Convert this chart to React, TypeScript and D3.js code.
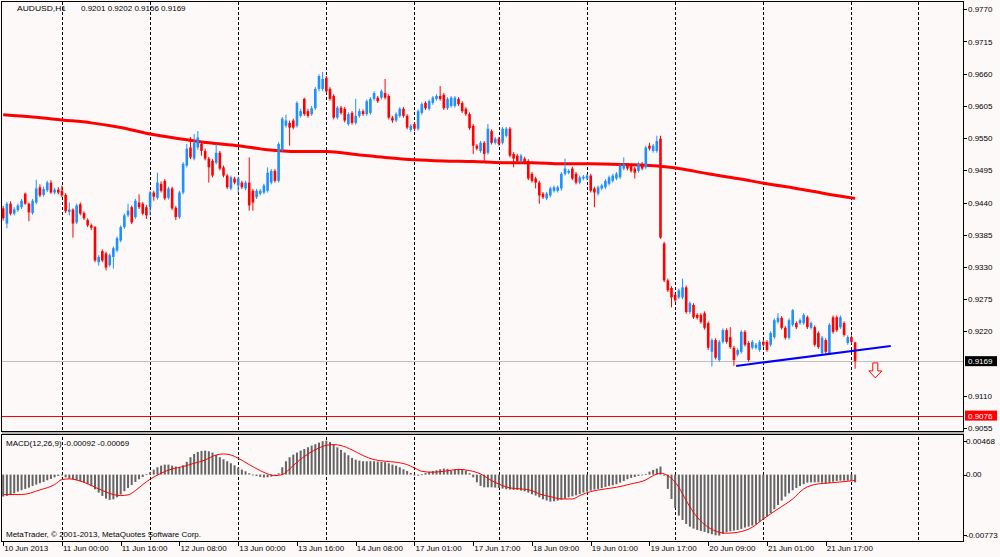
import React, { useLayoutEffect } from 'react';
import * as d3 from 'd3';

// ---------- data ----------
const symbolText = 'AUDUSD,H1';
const headerQuotes = ['0.9201', '0.9202', '0.9156', '0.9169'];
const macdText = 'MACD(12,26,9) -0.00092 -0.00069';
const copyrightText = 'MetaTrader, \u00A9 2001-2013, MetaQuotes Software Corp.';

// prices in pips (x 1/10000)
const opens = [
  9430,9404,9438,9421,9427,9432,9455,9438,9422,9440,
  9466,9453,9461,9474,9457,9462,9460,9453,9424,9428,
  9406,9437,9422,9410,9401,9398,9338,9357,9353,9333,
  9347,9358,9375,9398,9418,9432,9415,9440,9438,9432,
  9432,9457,9448,9472,9477,9448,9464,9431,9415,9457,
  9503,9534,9515,9534,9540,9528,9515,9511,9508,9525,
  9500,9486,9464,9481,9469,9474,9464,9474,9460,9449,
  9455,9457,9460,9474,9494,9477,9530,9571,9576,9580,
  9571,9588,9617,9596,9591,9601,9634,9634,9653,9634,
  9622,9585,9602,9600,9574,9593,9576,9588,9596,9591,
  9593,9617,9619,9619,9627,9622,9585,9580,9588,9600,
  9588,9564,9574,9566,9593,9610,9600,9610,9617,9622,
  9624,9601,9605,9605,9617,9610,9600,9591,9571,9537,
  9528,9542,9525,9562,9542,9549,9542,9554,9566,9523,
  9520,9511,9515,9511,9489,9481,9474,9455,9447,9452,
  9460,9460,9464,9489,9491,9498,9489,9474,9481,9481,
  9486,9464,9455,9464,9466,9472,9477,9481,9483,9498,
  9503,9503,9498,9494,9506,9500,9537,9528,9528,9549,
  9370,9307,9294,9282,9278,9278,9295,9253,9265,9248,
  9248,9251,9234,9185,9205,9171,9202,9222,9210,9192,
  9180,9185,9219,9200,9192,9192,9188,9202,9202,9197,
  9210,9236,9243,9226,9209,9231,9234,9234,9234,9244,
  9226,9227,9217,9183,9205,9183,9244,9244,9227,9234,
  9200,9210,9201,
];
const highs = [
  9434,9441,9442,9432,9438,9446,9457,9440,9446,9479,
  9471,9467,9477,9478,9465,9466,9469,9456,9440,9430,
  9438,9440,9425,9413,9404,9400,9350,9360,9356,9353,
  9365,9382,9401,9421,9438,9435,9446,9454,9441,9436,
  9460,9460,9491,9476,9480,9467,9467,9434,9460,9509,
  9540,9552,9557,9562,9545,9532,9518,9514,9540,9528,
  9503,9489,9486,9484,9484,9477,9477,9517,9463,9463,
  9463,9472,9500,9497,9497,9543,9586,9590,9580,9583,
  9613,9600,9619,9600,9605,9637,9659,9663,9656,9637,
  9625,9605,9605,9603,9594,9596,9617,9600,9599,9616,
  9620,9630,9622,9633,9651,9625,9588,9594,9603,9603,
  9591,9574,9577,9599,9611,9613,9616,9622,9625,9639,
  9627,9620,9622,9622,9620,9613,9603,9594,9574,9540,
  9545,9545,9574,9565,9552,9552,9569,9569,9569,9526,
  9523,9523,9518,9514,9492,9484,9477,9458,9458,9467,
  9469,9469,9492,9515,9497,9501,9492,9486,9487,9489,
  9489,9467,9469,9472,9480,9486,9489,9492,9506,9517,
  9506,9506,9501,9509,9509,9537,9542,9540,9554,9554,
  9373,9310,9297,9285,9293,9310,9298,9271,9268,9251,
  9251,9254,9237,9208,9208,9205,9225,9225,9227,9195,
  9191,9222,9222,9203,9205,9200,9205,9205,9205,9220,
  9242,9251,9246,9229,9242,9258,9237,9242,9251,9247,
  9237,9230,9220,9212,9208,9234,9247,9247,9247,9237,
  9213,9213,9202,
];
const lows = [
  9409,9396,9418,9418,9424,9429,9436,9408,9419,9437,
  9449,9450,9458,9455,9454,9454,9449,9422,9418,9380,
  9403,9418,9410,9398,9393,9338,9332,9338,9324,9330,
  9327,9355,9372,9395,9415,9403,9412,9429,9418,9412,
  9418,9443,9445,9457,9444,9445,9427,9410,9412,9454,
  9500,9514,9512,9530,9520,9512,9474,9483,9505,9495,
  9483,9463,9461,9471,9457,9463,9461,9426,9426,9446,
  9452,9454,9457,9471,9474,9474,9527,9568,9537,9565,
  9568,9585,9588,9585,9588,9598,9630,9630,9627,9614,
  9582,9582,9590,9577,9571,9573,9573,9585,9588,9588,
  9590,9614,9610,9616,9616,9582,9576,9577,9585,9585,
  9565,9560,9562,9563,9590,9598,9597,9607,9614,9614,
  9598,9598,9602,9602,9605,9593,9588,9564,9523,9529,
  9525,9511,9522,9539,9539,9537,9539,9551,9517,9500,
  9508,9508,9505,9478,9474,9464,9438,9446,9444,9449,
  9457,9457,9460,9486,9488,9478,9471,9471,9478,9478,
  9457,9432,9452,9461,9463,9469,9474,9478,9480,9495,
  9495,9491,9481,9491,9495,9497,9529,9525,9525,9378,
  9304,9287,9261,9270,9275,9275,9250,9250,9241,9240,
  9233,9223,9188,9160,9172,9168,9199,9199,9190,9161,
  9177,9182,9194,9168,9189,9189,9185,9194,9185,9194,
  9207,9233,9223,9206,9206,9228,9224,9231,9231,9224,
  9223,9194,9190,9180,9182,9180,9216,9219,9224,9211,
  9197,9199,9156,
];
const closes = [
  9413,9438,9421,9428,9435,9443,9438,9423,9443,9464,
  9452,9463,9474,9457,9462,9457,9452,9425,9428,9404,
  9435,9421,9413,9401,9397,9341,9347,9341,9329,9350,
  9362,9379,9398,9418,9426,9406,9443,9432,9421,9418,
  9457,9450,9474,9460,9447,9464,9430,9415,9457,9506,
  9532,9517,9542,9551,9528,9515,9500,9486,9525,9498,
  9486,9466,9483,9474,9481,9466,9474,9435,9440,9460,
  9460,9469,9491,9494,9477,9540,9583,9580,9568,9568,
  9610,9596,9591,9588,9601,9634,9656,9651,9630,9617,
  9585,9602,9593,9580,9591,9576,9588,9596,9591,9613,
  9617,9627,9613,9630,9619,9585,9580,9591,9600,9588,
  9568,9571,9566,9596,9608,9601,9613,9619,9622,9617,
  9601,9617,9619,9619,9608,9596,9591,9567,9537,9532,
  9542,9523,9566,9542,9549,9540,9566,9566,9520,9515,
  9511,9520,9508,9481,9477,9474,9452,9449,9455,9464,
  9466,9466,9489,9498,9494,9481,9474,9483,9484,9486,
  9460,9457,9466,9469,9477,9483,9486,9489,9503,9506,
  9498,9494,9491,9506,9498,9534,9532,9537,9545,9380,
  9307,9290,9278,9273,9290,9295,9253,9268,9244,9243,
  9236,9226,9192,9205,9175,9202,9222,9202,9193,9171,
  9188,9219,9197,9171,9202,9197,9202,9197,9188,9217,
  9239,9243,9226,9209,9239,9256,9227,9239,9248,9227,
  9234,9197,9193,9209,9185,9231,9219,9222,9244,9214,
  9210,9202,9169,
];

// moving average (red thick line), sampled every 8 bars, in pips
const maBars = [0,8,16,24,32,40,48,56,64,72,80,88,96,104,112,120,128,136,144,152,160,168,176,184,192,200,208,216,224,232];
const maValues = [9590,9586,9581,9576,9568,9557,9549,9542,9537,9530,9527,9527,9522,9517,9513,9511,9510,9508,9508,9506,9506,9505,9503,9498,9489,9481,9472,9464,9455,9447];

// MACD histogram per bar, in 1e-5 units
const macdHist = [
  -260,-252,-236,-221,-201,-185,-169,-154,-134,-118,
  -102,-87,-67,-51,-32,-16,-4,-32,-47,-55,
  -67,-79,-95,-114,-138,-173,-213,-252,-284,-299,
  -292,-268,-236,-197,-158,-122,-87,-55,-28,4,
  28,59,87,106,118,118,106,95,87,110,
  150,205,244,268,280,284,276,260,232,205,
  181,158,134,110,83,59,39,16,-2,-16,
  -28,-35,-32,-24,-12,16,87,158,205,236,
  260,284,303,323,343,359,378,394,402,386,
  355,323,292,260,229,197,177,165,158,158,
  158,158,154,150,146,134,118,106,87,63,
  43,20,-4,-12,4,20,32,43,51,63,
  71,67,47,59,67,63,47,16,-32,-91,
  -134,-150,-150,-150,-154,-158,-165,-173,-177,-181,
  -181,-189,-197,-213,-232,-248,-268,-292,-307,-319,
  -315,-307,-296,-284,-268,-256,-244,-229,-213,-201,
  -189,-177,-169,-158,-146,-134,-126,-114,-95,-75,
  -55,-39,-28,-16,-4,8,35,55,71,95,
  -12,-169,-288,-394,-485,-536,-583,-615,-638,-654,
  -666,-678,-693,-705,-717,-721,-701,-682,-670,-662,
  -654,-642,-626,-615,-603,-587,-559,-532,-496,-457,
  -410,-359,-307,-260,-221,-185,-158,-134,-114,-95,
  -91,-91,-91,-95,-106,-99,-83,-75,-71,-71,
  -71,-71,-92,
];
// MACD signal line, sampled, 1e-5 units
const signalBars = [0,5,10,14,16,18,22,26,30,32,34,36,38,40,43,46,49,52,55,58,60,62,64,67,70,72,74,76,78,80,83,86,88,90,92,95,98,101,104,107,110,112,114,117,121,124,127,130,133,136,138,141,144,146,149,152,155,157,160,164,167,171,175,177,179,181,184,186,189,192,195,197,200,204,207,211,215,218,222,225,229,232];
const signalValues = [-236,-236,-181,-118,-59,-51,-91,-169,-236,-248,-240,-189,-118,-55,16,67,95,134,173,232,244,232,193,118,47,8,-12,0,67,146,244,315,347,355,343,292,225,177,158,146,118,79,39,28,45,62,47,8,-71,-130,-158,-169,-189,-229,-260,-288,-288,-248,-201,-169,-150,-110,-63,-12,16,-12,-150,-307,-504,-622,-682,-693,-682,-622,-524,-406,-288,-169,-110,-99,-83,-69];

const priceTicks = [0.9770,0.9715,0.9660,0.9605,0.9550,0.9495,0.9440,0.9385,0.9330,0.9275,0.9220,0.9110,0.9055];
const macdMax = 0.00468;
const macdMin = -0.00773;
const macdTickLabels = ['0.00468','0.00','-0.00773'];

const timeLabels = ['10 Jun 2013','11 Jun 00:00','11 Jun 16:00','12 Jun 08:00','13 Jun 00:00','13 Jun 16:00','14 Jun 08:00','17 Jun 01:00','17 Jun 17:00','18 Jun 09:00','19 Jun 01:00','19 Jun 17:00','20 Jun 09:00','21 Jun 01:00','21 Jun 17:00'];
const timeLabelBars = [0,16,32,48,64,80,96,112,128,144,160,176,192,208,224];
const separatorBars = [16,40,64,88,112,135,159,183,207,231,249];

const currentPrice = 0.9169;
const levelPrice = 0.9076;
const trendBars = [199.6, 241.7];
const trendPrices = [0.91608, 0.91949];
const arrowBar = 237.5;
const arrowPrice = 0.9166;

// ---------- component ----------
const FONT = "'Liberation Sans', Arial, Helvetica, sans-serif";
const BG = '#FDF9F9';
const BULL = '#1E90FF';
const BEAR = '#FF0000';

export default function App() {
  useLayoutEffect(() => {
    document.body.style.margin = '0';
  }, []);

  const W = 1000, H = 557;
  const plotL = 1.5, plotR = 963.5;
  const mainTop = 1.5, mainBot = 431.5;
  const macdTop = 434.5, macdBot = 541.5;
  const lastBar = closes.length - 1;

  const x = d3.scaleLinear().domain([0, lastBar]).range([3.2, 3.2 + 3.672 * lastBar]);
  const y = d3.scaleLinear().domain([0.9110, 0.9770]).range([395.7, 9.3]);
  const ym = d3.scaleLinear().domain([macdMin, macdMax]).range([540, 435]);
  const p = (v: number) => v / 10000;
  const m = (v: number) => v / 100000;

  const maLine = d3.line<number>()
    .x((_, i) => x(maBars[i]))
    .y((d) => y(p(d)))
    .curve(d3.curveMonotoneX)(maValues) || '';

  const sigLine = d3.line<number>()
    .x((_, i) => x(signalBars[i]))
    .y((d) => ym(m(d)))
    .curve(d3.curveMonotoneX)(signalValues) || '';

  const trendPath = d3.line<number>()
    .x((_, i) => x(trendBars[i]))
    .y((d) => y(d))(trendPrices) || '';

  const ax = x(arrowBar), ay = y(arrowPrice);
  const arrowPath = `M${ax - 2.5},${ay} L${ax + 2.5},${ay} L${ax + 2.5},${ay + 8} L${ax + 6.5},${ay + 8} L${ax},${ay + 15} L${ax - 6.5},${ay + 8} L${ax - 2.5},${ay + 8} Z`;

  const crisp = (v: number) => Math.round(v) + 0.5;
  const zeroY = ym(0);

  return (
    <svg width={W} height={H} style={{ display: 'block', background: BG }} fontFamily={FONT}>
      <rect x={0} y={0} width={W} height={H} fill={BG} />

      <defs>
        <clipPath id="mainClip">
          <rect x={plotL} y={mainTop} width={plotR - plotL} height={mainBot - mainTop} />
        </clipPath>
        <clipPath id="macdClip">
          <rect x={plotL} y={macdTop} width={plotR - plotL} height={macdBot - macdTop} />
        </clipPath>
      </defs>

      {/* period separators */}
      {separatorBars.map((b, i) => (
        <line key={'sep' + i} x1={crisp(x(b))} x2={crisp(x(b))} y1={mainTop} y2={macdBot}
          stroke="#000" strokeWidth={1} strokeDasharray="3,2" shapeRendering="crispEdges" />
      ))}

      {/* main chart */}
      <g clipPath="url(#mainClip)">
        <line x1={plotL} x2={plotR} y1={crisp(y(levelPrice))} y2={crisp(y(levelPrice))} stroke="#FF0000" strokeWidth={1} shapeRendering="crispEdges" />
        <line x1={plotL} x2={plotR} y1={crisp(y(currentPrice))} y2={crisp(y(currentPrice))} stroke="#C0C0C0" strokeWidth={1} shapeRendering="crispEdges" />

        <path d={maLine} fill="none" stroke="#FF0000" strokeWidth={3} strokeLinejoin="round" />

        {closes.map((c, i) => {
          const o = opens[i];
          const col = c >= o ? BULL : BEAR;
          const cx = x(i);
          const top = y(p(Math.max(o, c)));
          const bot = y(p(Math.min(o, c)));
          return (
            <g key={'c' + i}>
              <line x1={cx} x2={cx} y1={y(p(highs[i]))} y2={y(p(lows[i]))} stroke={col} strokeWidth={1} />
              <rect x={cx - 1.3} y={top} width={2.6} height={Math.max(1, bot - top)} fill={col} />
            </g>
          );
        })}

        <path d={trendPath} fill="none" stroke="#0000FF" strokeWidth={2} />
        <path d={arrowPath} fill={BG} stroke="#FF0000" strokeWidth={1} />
      </g>

      {/* header */}
      <text x={17} y={11} fontSize={8} fill="#000" textLength={49} lengthAdjust="spacingAndGlyphs">{symbolText}</text>
      <text x={81} y={11} fontSize={8} fill="#000" style={{ whiteSpace: 'pre' }}>{headerQuotes.join(' ')}</text>

      {/* macd panel */}
      <g clipPath="url(#macdClip)">
        {macdHist.map((v, i) => {
          const vy = ym(m(v));
          return (
            <rect key={'h' + i} x={x(i) - 1} y={Math.min(vy, zeroY)} width={2}
              height={Math.max(0.8, Math.abs(vy - zeroY))} fill="#646464" />
          );
        })}
        <path d={sigLine} fill="none" stroke="#FF0000" strokeWidth={1} />
      </g>
      <text x={6} y={445.5} fontSize={8} fill="#000">{macdText}</text>
      <text x={6} y={536.5} fontSize={8} fill="#000">{copyrightText}</text>

      {/* frames */}
      <rect x={plotL} y={mainTop} width={plotR - plotL} height={mainBot - mainTop} fill="none" stroke="#000" strokeWidth={1} shapeRendering="crispEdges" />
      <rect x={plotL} y={mainBot + 0.5} width={plotR - plotL} height={2.5} fill="#B4B4B4" shapeRendering="crispEdges" />
      <rect x={plotL} y={macdTop} width={plotR - plotL} height={macdBot - macdTop} fill="none" stroke="#000" strokeWidth={1} shapeRendering="crispEdges" />

      {/* price axis */}
      {priceTicks.map((t, i) => (
        <g key={'pt' + i}>
          <line x1={plotR} x2={plotR + 3} y1={crisp(y(t))} y2={crisp(y(t))} stroke="#000" shapeRendering="crispEdges" />
          <text x={968} y={y(t) + 3} fontSize={8} fill="#000">{d3.format('.4f')(t)}</text>
        </g>
      ))}
      <rect x={965} y={y(currentPrice) - 5} width={32} height={10} fill="#000" />
      <text x={968} y={y(currentPrice) + 3} fontSize={8} fill="#fff">{d3.format('.4f')(currentPrice)}</text>
      <rect x={965} y={y(levelPrice) - 5} width={32} height={10} fill="#FF0000" />
      <text x={968} y={y(levelPrice) + 3} fontSize={8} fill="#fff">{d3.format('.4f')(levelPrice)}</text>

      {/* macd axis */}
      {[macdMax, 0, macdMin].map((t, i) => {
        const ty = i === 0 ? ym(t) + 9 : i === 2 ? ym(t) - 2 : ym(t) + 2;
        const tk = i === 0 ? ym(t) + 6 : i === 2 ? ym(t) - 5 : ym(t);
        return (
          <g key={'mt' + i}>
            <line x1={plotR} x2={plotR + 3} y1={crisp(tk)} y2={crisp(tk)} stroke="#000" shapeRendering="crispEdges" />
            <text x={966} y={ty} fontSize={8} fill="#000">{macdTickLabels[i]}</text>
          </g>
        );
      })}

      {/* time axis */}
      {timeLabelBars.map((b, i) => (
        <g key={'tl' + i}>
          <line x1={crisp(x(b))} x2={crisp(x(b))} y1={macdBot} y2={macdBot + 4} stroke="#000" shapeRendering="crispEdges" />
          <text x={x(b) + 1} y={551} fontSize={8} fill="#000">{timeLabels[i]}</text>
        </g>
      ))}
    </svg>
  );
}
